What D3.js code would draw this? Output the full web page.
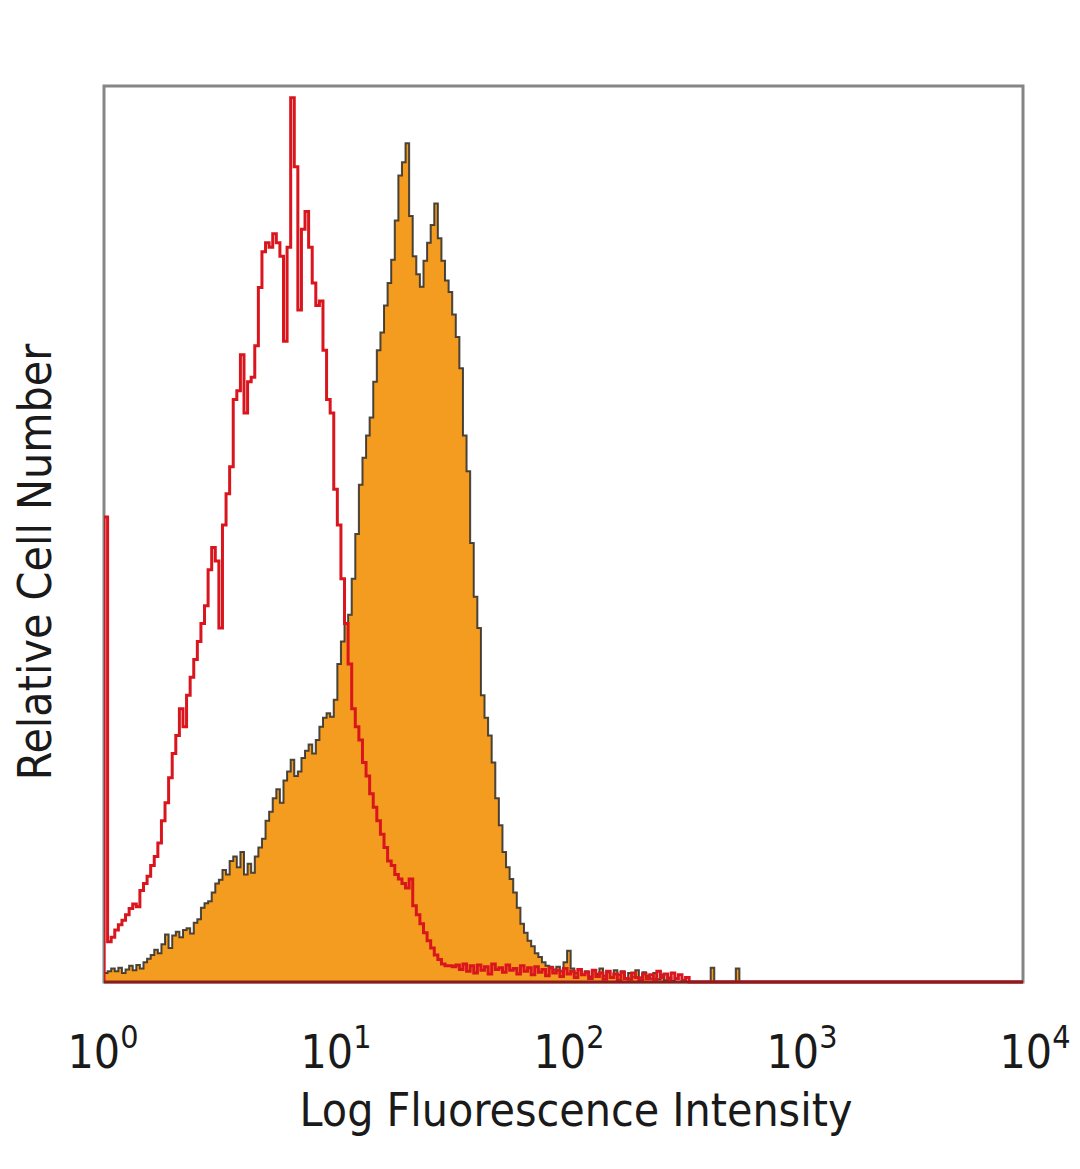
<!DOCTYPE html>
<html>
<head>
<meta charset="utf-8">
<script src="https://cdn.jsdelivr.net/npm/d3@7"></script>
<style>
  html, body { margin: 0; padding: 0; background: #ffffff; }
  svg { display: block; }
</style>
</head>
<body>
<svg id="chart" width="1080" height="1169"></svg>
<script>
// ---- data: histogram channels, 64 channels per decade starting at 10^0 ----
const channelsPerDecade = 64;
const tickExponents = [0, 1, 2, 3, 4];
const xTitle = "Log Fluorescence Intensity";
const yTitle = "Relative Cell Number";

// Red (control) histogram, relative counts (0-100 = full frame height)
const controlCounts = [
  51.9, 4.5, 5.0, 5.8, 6.4, 6.9, 7.5, 8.2, 8.7, 8.4,
  10.2, 11.0, 11.8, 13.0, 14.0, 15.5, 18.0, 20.0, 22.8, 25.5,
  27.5, 30.5, 28.5, 32.0, 34.0, 36.0, 38.0, 40.0, 42.0, 46.0,
  48.5, 47.0, 39.5, 51.0, 54.5, 57.5, 65.0, 66.0, 70.0, 63.5,
  67.0, 67.5, 71.0, 77.5, 81.5, 82.5, 82.0, 83.5, 82.5, 81.0,
  71.5, 82.0, 98.7, 91.0, 75.0, 84.0, 86.0, 82.0, 78.0, 75.5,
  76.0, 70.5, 65.0, 63.5, 55.0, 51.0, 45.0, 40.0, 35.5, 30.5,
  28.5, 27.0, 24.5, 23.0, 21.0, 19.5, 18.0, 16.5, 15.0, 13.5,
  13.0, 12.0, 11.5, 11.0, 10.5, 11.5, 8.5, 7.5, 6.5, 5.5,
  4.6, 3.8, 3.0, 2.5, 2.0, 1.8, 1.8, 1.7, 1.9, 1.4,
  2.0, 1.2, 1.8, 1.0, 1.9, 1.3, 1.7, 0.9, 2.0, 1.4,
  1.6, 1.1, 1.9, 1.3, 1.5, 0.9, 1.8, 1.2, 1.6, 0.8,
  1.7, 1.1, 1.4, 0.7, 1.6, 1.0, 1.3, 0.6, 1.5, 0.9,
  1.2, 0.5, 1.4, 0.8, 1.1, 0.4, 1.3, 0.6, 1.0, 0.3,
  1.2, 0.5, 0.9, 0.2, 1.1, 0.4, 0.3, 1.0, 0.5, 0.2,
  0.9, 0.4, 0.8, 0.3, 1.2, 0.5, 0.9, 0.3, 1.0, 0.4,
  0.8, 0.2, 0.5
];

// Orange (stained) histogram, relative counts
const stainedCounts = [
  1.0, 1.2, 1.5, 1.2, 1.6, 1.0, 1.4, 1.8, 1.3, 1.9,
  1.5, 2.2, 2.6, 3.0, 3.6, 3.2, 4.2, 5.3, 3.8, 5.2,
  5.6, 5.0, 5.8, 6.0, 5.4, 6.6, 7.0, 8.3, 8.8, 9.0,
  10.0, 11.0, 11.4, 12.5, 12.0, 13.5, 14.0, 12.8, 14.5, 12.0,
  13.2, 12.2, 14.0, 15.0, 16.0, 18.0, 19.0, 20.5, 21.5, 20.0,
  22.5, 23.5, 24.8, 23.0, 23.5, 25.0, 25.8, 26.5, 25.5, 27.0,
  28.5, 29.5, 30.0, 29.6, 31.5, 35.5, 38.0, 40.0, 41.0, 45.0,
  50.0, 55.5, 58.5, 61.0, 63.0, 67.0, 70.5, 72.5, 75.5, 78.0,
  80.6, 85.0, 90.0, 91.5, 93.6, 85.5, 81.0, 79.0, 77.6, 80.5,
  82.5, 84.5, 86.9, 83.0, 80.5, 78.3, 77.0, 74.5, 72.0, 68.5,
  61.0, 57.0, 49.0, 43.0, 39.5, 32.0, 29.5, 27.5, 24.5, 20.5,
  17.5, 14.5, 12.8, 11.5, 10.0, 8.3, 6.5, 5.5, 4.6, 4.0,
  3.2, 2.8, 2.2, 1.8, 1.7, 1.4, 1.7, 1.2, 2.2, 3.5,
  1.5, 1.0, 1.4, 0.8, 1.2, 0.6, 1.3, 0.9, 1.5, 0.7,
  1.1, 0.5, 1.3, 0.8, 1.2, 0.4, 1.0, 0.6, 1.3, 0.5,
  1.1, 0.7, 0.4, 1.0, 0.3, 0.8, 0.2, 0.5, 0.1, 0.0,
  0.0, 0.0, 0.0, 0.0, 0.0, 0.0, 0.0, 0.0, 0.0, 1.6,
  0.0, 0.0, 0.0, 0.0, 0.0, 0.0, 1.5, 0.0
];

// ---- layout ----
const svg = d3.select("#chart");
const plot = { left: 104, right: 1023, top: 86, bottom: 982 };

const x = d3.scaleLog().domain([1, 1e4]).range([plot.left, plot.right]);
const y = d3.scaleLinear().domain([0, 100]).range([plot.bottom, plot.top]);
// label placement scale (labels in the reference sit slightly wider than the frame)
const xLabel = d3.scaleLog().domain([1, 1e4]).range([103, 1035]);

const totalChannels = 4 * channelsPerDecade;
function toPoints(counts) {
  const pts = [{ x: 1, v: 0 }];
  for (let i = 0; i < totalChannels; i++) {
    pts.push({ x: Math.pow(10, i / channelsPerDecade), v: counts[i] !== undefined ? counts[i] : 0 });
  }
  pts.push({ x: 1e4, v: 0 });
  return pts;
}

const defs = svg.append("defs");
defs.append("clipPath").attr("id", "clip")
  .append("rect")
  .attr("x", plot.left).attr("y", plot.top - 20)
  .attr("width", plot.right - plot.left + 2)
  .attr("height", plot.bottom - plot.top + 22);

// frame
svg.append("rect")
  .attr("x", plot.left).attr("y", plot.top)
  .attr("width", plot.right - plot.left)
  .attr("height", plot.bottom - plot.top)
  .attr("fill", "#ffffff")
  .attr("stroke", "#858585")
  .attr("stroke-width", 3);

const g = svg.append("g").attr("clip-path", "url(#clip)");

const stainedPts = toPoints(stainedCounts);
const controlPts = toPoints(controlCounts);

const area = d3.area()
  .curve(d3.curveStepAfter)
  .x(d => x(d.x))
  .y0(y(0))
  .y1(d => y(d.v));

const line = d3.line()
  .curve(d3.curveStepAfter)
  .x(d => x(d.x))
  .y(d => y(d.v));

g.append("path")
  .datum(stainedPts)
  .attr("d", area)
  .attr("fill", "#f39c1f");

g.append("path")
  .datum(stainedPts)
  .attr("d", line)
  .attr("fill", "none")
  .attr("stroke", "#2a2a2a")
  .attr("stroke-width", 2)
  .attr("stroke-opacity", 0.85);

g.append("path")
  .datum(controlPts)
  .attr("d", line)
  .attr("fill", "none")
  .attr("stroke", "#d9161d")
  .attr("stroke-width", 3)
  .attr("stroke-linejoin", "miter");

// baseline (dark red over frame bottom)
svg.append("line")
  .attr("x1", x(1)).attr("x2", x(1e4))
  .attr("y1", y(0)).attr("y2", y(0))
  .attr("stroke", "#8e1c1c")
  .attr("stroke-width", 3);

// tick labels
const fontFam = "'DejaVu Sans Condensed', 'Liberation Sans Narrow', sans-serif";
const labels = svg.append("g");
tickExponents.forEach(e => {
  const t = labels.append("text")
    .attr("x", xLabel(Math.pow(10, e)))
    .attr("y", 1068)
    .attr("text-anchor", "middle")
    .attr("font-family", fontFam)
    .attr("font-size", 46)
    .attr("fill", "#1a1a1a");
  t.append("tspan").text("10");
  t.append("tspan").attr("font-size", 32).attr("dy", -20).text(String(e));
});

svg.append("text")
  .attr("x", 576).attr("y", 1126)
  .attr("text-anchor", "middle")
  .attr("font-family", fontFam)
  .attr("font-size", 46)
  .attr("fill", "#1a1a1a")
  .text(xTitle);

svg.append("text")
  .attr("transform", "translate(51,562) rotate(-90)")
  .attr("text-anchor", "middle")
  .attr("font-family", fontFam)
  .attr("font-size", 46)
  .attr("fill", "#1a1a1a")
  .text(yTitle);
</script>
</body>
</html>
